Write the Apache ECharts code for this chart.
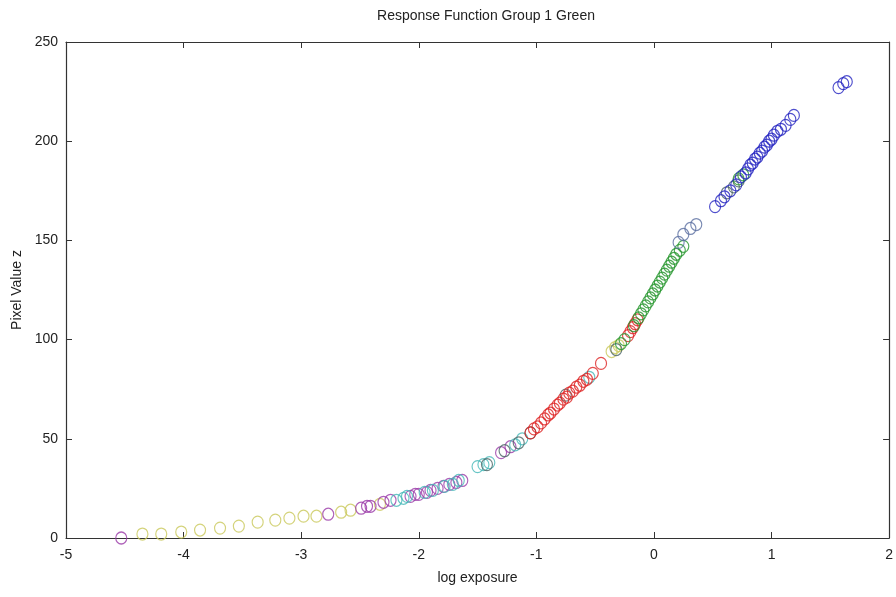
<!DOCTYPE html>
<html>
<head>
<meta charset="utf-8">
<script src="https://cdn.jsdelivr.net/npm/echarts@6/dist/echarts.min.js"></script>
<style>
html, body { margin: 0; padding: 0; background: #fff; }
#main { width: 896px; height: 597px; }
</style>
</head>
<body>
<div id="main"></div>
<script>
// values (log exposure, pixel value)
var yellowX = [-4.35, -4.19, -4.02, -3.86, -3.69, -3.53, -3.37, -3.22, -3.10, -2.98, -2.87, -2.66, -2.58, -2.33, -0.36, -0.33, -0.30];
var yellowY = [2, 2, 3, 4, 5, 6, 8, 9, 10, 11, 11, 13, 14, 17, 94, 96, 97];

var magentaX = [-4.53, -2.77, -2.49, -2.44, -2.41, -2.30, -2.24, -2.07, -2.03, -2.00, -1.93, -1.90, -1.84, -1.79, -1.74, -1.68, -1.63, -1.30, -1.22];
var magentaY = [0, 12, 15, 16, 16, 18, 19, 21, 22, 22, 23, 24, 25, 26, 27, 28, 29, 43, 46];

var cyanX = [-2.19, -2.13, -2.10, -1.95, -1.88, -1.78, -1.71, -1.66, -1.50, -1.45, -1.40, -1.18, -1.12, -0.55];
var cyanY = [19, 20, 21, 23, 24, 26, 27, 29, 36, 37, 38, 47, 50, 81];

var darkX = [-1.42, -1.27, -1.15, -1.05, -0.75, -0.32, 0.62, 0.68, 0.72];
var darkY = [37, 44, 48, 53, 72, 95, 174, 177, 180];

var redX = [-1.05, -1.02, -0.99, -0.96, -0.93, -0.90, -0.88, -0.85, -0.82, -0.80, -0.77, -0.74, -0.72, -0.69, -0.66, -0.63, -0.60, -0.57, -0.52, -0.45, -0.22, -0.20, -0.18, -0.16, -0.14];
var redY = [53, 55, 56, 58, 60, 62, 63, 65, 67, 68, 70, 71, 73, 74, 76, 77, 79, 80, 83, 88, 102, 104, 106, 108, 110];

var greenX = [-0.28, -0.25, -0.17, -0.13, -0.11, -0.09, -0.07, -0.05, -0.03, -0.01, 0.01, 0.03, 0.05, 0.07, 0.09, 0.11, 0.13, 0.15, 0.17, 0.19, 0.22, 0.25, 0.72, 0.76];
var greenY = [98, 100, 107, 111, 113, 115, 117, 119, 121, 123, 125, 127, 129, 131, 133, 135, 137, 139, 141, 143, 145, 147, 181, 183];

var steelX = [0.21, 0.25, 0.31, 0.36];
var steelY = [149, 153, 156, 158];

var blueX = [0.52, 0.57, 0.60, 0.65, 0.70, 0.74, 0.78, 0.80, 0.82, 0.84, 0.86, 0.88, 0.90, 0.92, 0.94, 0.96, 0.98, 1.00, 1.02, 1.05, 1.08, 1.12, 1.16, 1.19, 1.57, 1.61, 1.64];
var blueY = [167, 170, 172, 175, 178, 182, 184, 186, 188, 189, 191, 192, 194, 195, 197, 198, 200, 201, 203, 205, 206, 208, 211, 213, 227, 229, 230];

var font = "'Liberation Sans', Arial, sans-serif";

function pairs(xs, ys) {
	return xs.map(function(x, i) { return [x, ys[i]]; });
}

function ring(name, xs, ys, color) {
	return {
		name: name,
		type: 'scatter',
		xAxisIndex: 0,
		yAxisIndex: 0,
		symbol: 'circle',
		symbolSize: [11, 12],
		data: pairs(xs, ys),
		itemStyle: { color: 'rgba(0,0,0,0)', borderColor: color, borderWidth: 1.2 },
		emphasis: { disabled: true },
		silent: true
	};
}

var chart = echarts.init(document.getElementById('main'));

var axisLine = { show: true, onZero: false, lineStyle: { color: '#333', width: 1.2 } };
var tick = { show: true, inside: true, length: 6, lineStyle: { color: '#333' } };
var labelStyle = { fontFamily: font, fontSize: 14, color: '#222' };

var option = {
	animation: false,
	backgroundColor: '#fff',
	title: {
		text: 'Response Function Group 1 Green',
		left: 481,
		top: 4,
		textAlign: 'center',
		textStyle: { fontFamily: font, fontSize: 14, fontWeight: 'normal', color: '#222' }
	},
	grid: { left: 66, right: 3, top: 42, bottom: 59 },
	xAxis: [
		{
			type: 'value', position: 'bottom', min: -5, max: 2, interval: 1,
			name: 'log exposure', nameLocation: 'middle', nameGap: 33,
			nameTextStyle: labelStyle,
			axisLine: axisLine, axisTick: tick, splitLine: { show: false },
			axisLabel: { fontFamily: font, fontSize: 14, color: '#222', margin: 10 }
		},
		{
			type: 'value', position: 'top', min: -5, max: 2, interval: 1,
			axisLine: axisLine, axisTick: tick, splitLine: { show: false },
			axisLabel: { show: false }
		}
	],
	yAxis: [
		{
			type: 'value', position: 'left', min: 0, max: 250, interval: 50,
			name: 'Pixel Value z', nameLocation: 'middle', nameGap: 41,
			nameTextStyle: labelStyle,
			axisLine: axisLine, axisTick: tick, splitLine: { show: false },
			axisLabel: { fontFamily: font, fontSize: 14, color: '#222', margin: 8 }
		},
		{
			type: 'value', position: 'right', min: 0, max: 250, interval: 50,
			axisLine: axisLine, axisTick: tick, splitLine: { show: false },
			axisLabel: { show: false }
		}
	],
	series: [
		ring('yellow', yellowX, yellowY, '#c9c85a'),
		ring('magenta', magentaX, magentaY, '#9a3aa8'),
		ring('cyan', cyanX, cyanY, '#45b8b8'),
		ring('dark', darkX, darkY, '#4a6464'),
		ring('red', redX, redY, '#dd2222'),
		ring('green', greenX, greenY, '#23952a'),
		ring('steel', steelX, steelY, '#5a6ea0'),
		ring('blue', blueX, blueY, '#2323c0')
	]
};

chart.setOption(option);
</script>
</body>
</html>
